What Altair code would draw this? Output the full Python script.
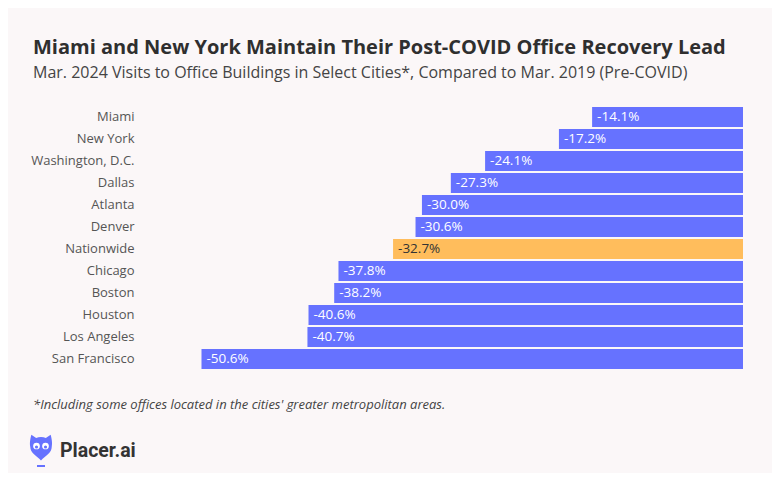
import altair as alt
import pandas as pd

cities = ["Miami", "New York", "Washington, D.C.", "Dallas", "Atlanta", "Denver",
          "Nationwide", "Chicago", "Boston", "Houston", "Los Angeles", "San Francisco"]
values = [-14.1, -17.2, -24.1, -27.3, -30.0, -30.6, -32.7, -37.8, -38.2, -40.6, -40.7, -50.6]
labels = [f"{v:.1f}%" for v in values]

TITLE = "Miami and New York Maintain Their Post-COVID Office Recovery Lead"
SUBTITLE = "Mar. 2024 Visits to Office Buildings in Select Cities*, Compared to Mar. 2019 (Pre-COVID)"
FOOTNOTE = "*Including some offices located in the cities' greater metropolitan areas."
BRAND = "Placer.ai"

BLUE = "#6672ff"
ORANGE = "#ffbd5c"
FONT = "Open Sans"

df = pd.DataFrame({"city": cities, "value": values, "label": labels})

x = alt.X("value:Q", scale=alt.Scale(domain=[-57, 0], nice=False, zero=False), axis=None)
y = alt.Y("city:N", sort=cities,
          scale=alt.Scale(paddingInner=0.1, paddingOuter=0.05),
          axis=alt.Axis(title=None, domain=False, ticks=False, labelPadding=-1,
                        labelFont=FONT, labelFontSize=13, labelColor="#555555"))

base = alt.Chart(df)

bars = base.mark_bar().encode(
    x=x, x2=alt.datum(0), y=y,
    color=alt.condition(alt.datum.city == "Nationwide", alt.value(ORANGE), alt.value(BLUE)),
)

text = base.mark_text(align="left", baseline="middle", dx=5, font=FONT, fontSize=13.5).encode(
    x=x, y=y, text="label:N",
    color=alt.condition(alt.datum.city == "Nationwide", alt.value("#333333"), alt.value("#ffffff")),
)

one = pd.DataFrame({"t": [1]})

foot = alt.Chart(pd.DataFrame({"t": [FOOTNOTE]})).mark_text(
    align="left", baseline="middle", font=FONT, fontSize=13, fontStyle="italic", color="#444444"
).encode(text="t:N", x=alt.value(-100), y=alt.value(299))

brand = alt.Chart(pd.DataFrame({"t": [BRAND]})).mark_text(
    align="left", baseline="alphabetic", font="Roboto", fontSize=19.5, fontWeight="bold", color="#333333"
).encode(text="t:N", x=alt.value(-73), y=alt.value(351))

PIN = ("M-0.9,-1.15 L-0.45,-0.85 C-0.2,-0.95 0.2,-0.95 0.45,-0.85 L0.9,-1.15 "
       "C1.05,-0.6 1.05,-0.3 1,0 C1,0.55 0.4,0.85 0,1.25 C-0.4,0.85 -1,0.55 -1,0 "
       "C-1.05,-0.3 -1.05,-0.6 -0.9,-1.15 Z")
pin = alt.Chart(one).mark_point(
    shape=PIN, filled=True, color=BLUE, size=460, opacity=1
).encode(x=alt.value(-92), y=alt.value(341))

eye_l = alt.Chart(one).mark_point(shape="circle", filled=True, color="white", size=45, opacity=1).encode(
    x=alt.value(-96.5), y=alt.value(340))
eye_r = alt.Chart(one).mark_point(shape="circle", filled=True, color="white", size=45, opacity=1).encode(
    x=alt.value(-87.5), y=alt.value(340))
pup_l = alt.Chart(one).mark_point(shape="circle", filled=True, color=BLUE, size=10, opacity=1).encode(
    x=alt.value(-96.5), y=alt.value(341))
pup_r = alt.Chart(one).mark_point(shape="circle", filled=True, color=BLUE, size=10, opacity=1).encode(
    x=alt.value(-87.5), y=alt.value(341))
stem = alt.Chart(one).mark_rule(color=BLUE, strokeWidth=2).encode(
    x=alt.value(-96), x2=alt.value(-88), y=alt.value(360))

chart = alt.layer(bars, text, foot, brand, pin, eye_l, eye_r, pup_l, pup_r, stem).properties(
    width=610, height=264,
    padding={"left": 125, "right": 29, "top": 98, "bottom": 103},
    autosize=alt.AutoSizeParams(type="none"),
    background="#fbf7f8",
    title=alt.TitleParams(
        text=TITLE, subtitle=SUBTITLE, anchor="start", frame="group", dx=-100, offset=25,
        font=FONT, fontSize=20, fontWeight="bold", color="#2f2f2f",
        subtitleFont=FONT, subtitleFontSize=16, subtitleColor="#444444", subtitlePadding=7,
    ),
).configure_view(stroke=None)

chart.save("out.html", embed_options={"renderer": "svg", "actions": False})
